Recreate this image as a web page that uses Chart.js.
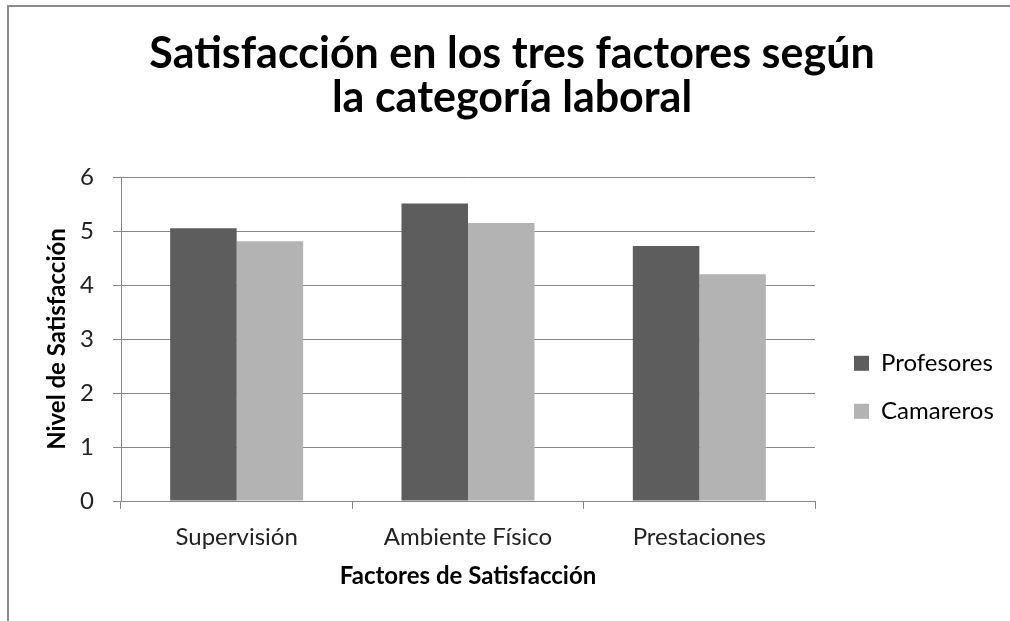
<!DOCTYPE html>
<html><head><meta charset="utf-8">
<script src="https://cdn.jsdelivr.net/npm/chart.js@4/dist/chart.umd.min.js"></script>
<style>
html,body{margin:0;padding:0;background:#fff;overflow:hidden;}
#frame{position:absolute;left:7px;top:5px;width:1100px;height:700px;border-left:2px solid #8c8c8c;border-top:2px solid #8c8c8c;}
#wrap{position:absolute;left:0;top:0;width:1010px;height:621px;}
</style></head><body>
<div id="frame"></div>
<div id="wrap"><canvas id="c" width="1010" height="621"></canvas></div>
<script>
const titleLines = ['Satisfacción en los tres factores según', 'la categoría laboral'];
const categories = ['Supervisión', 'Ambiente Físico', 'Prestaciones'];
const seriesNames = ['Profesores', 'Camareros'];
const profesores = [5.05, 5.51, 4.72];
const camareros = [4.81, 5.15, 4.20];
const yMin = 0, yMax = 6, yStep = 1;
const yTitle = 'Nivel de Satisfacción';
const xTitle = 'Factores de Satisfacción';

const FONT = 'Lato';
const gridCol = '#878787';
const LEGEND_W = 180;

const legendWidthPlugin = {
  id: 'legendWidth',
  afterInit(chart) {
    const lg = chart.legend;
    if (lg && !lg._wrapped) {
      const f = lg.fit;
      lg.fit = function () { f.call(this); this.width = LEGEND_W; };
      lg._wrapped = true;
    }
  }
};

new Chart(document.getElementById('c'), {
  type: 'bar',
  data: {
    labels: categories,
    datasets: [
      {label: seriesNames[0], data: profesores, backgroundColor: '#5d5d5d', borderColor: '#5d5d5d', borderWidth: 0, categoryPercentage: 0.575, barPercentage: 1},
      {label: seriesNames[1], data: camareros, backgroundColor: '#b3b3b3', borderColor: '#b3b3b3', borderWidth: 0, categoryPercentage: 0.575, barPercentage: 1}
    ]
  },
  plugins: [legendWidthPlugin],
  options: {
    responsive: false,
    animation: false,
    layout: {padding: {left: 14, right: 0, top: 0, bottom: 0}},
    plugins: {
      title: {
        display: true, text: titleLines, color: '#000',
        font: {family: FONT, size: 43, weight: 'bold', lineHeight: '44px'},
        padding: {top: 32, bottom: 57}
      },
      legend: {
        position: 'right', align: 'center',
        title: {display: true, text: ' ', padding: {top: 69, bottom: 69}, font: {size: 13, lineHeight: 1.2}},
        labels: {
          color: '#000', boxWidth: 15, boxHeight: 15, padding: 24,
          font: {family: FONT, size: 24, lineHeight: 1.2}
        }
      },
      tooltip: {enabled: false}
    },
    scales: {
      x: {
        offset: true,
        grid: {offset: true, drawOnChartArea: false, drawTicks: true, tickLength: 8, color: gridCol, lineWidth: 1},
        border: {display: true, color: gridCol, width: 1},
        ticks: {color: '#222', font: {family: FONT, size: 24}, padding: 14, maxRotation: 0},
        title: {display: true, text: xTitle, color: '#000', font: {family: FONT, size: 24, weight: 'bold', lineHeight: 1.2}, padding: {top: 0, bottom: 30}},
        afterFit: s => { s.height = 120; }
      },
      y: {
        min: yMin, max: yMax,
        grid: {color: gridCol, lineWidth: 1, tickLength: 8, drawTicks: true},
        border: {display: true, color: gridCol, width: 1},
        ticks: {stepSize: yStep, color: '#222', font: {family: FONT, size: 24}, padding: 19},
        title: {display: true, text: yTitle, color: '#000', font: {family: FONT, size: 24, weight: 'bold', lineHeight: 1.2}, padding: {top: 29, bottom: 0}},
        afterFit: s => { s.width = 107; }
      },
      y2: {
        position: 'right', display: true,
        grid: {display: false, drawTicks: false}, border: {display: false},
        ticks: {display: false}, title: {display: false},
        afterFit: s => { s.width = 15; }
      }
    }
  }
});
</script>
</body></html>
